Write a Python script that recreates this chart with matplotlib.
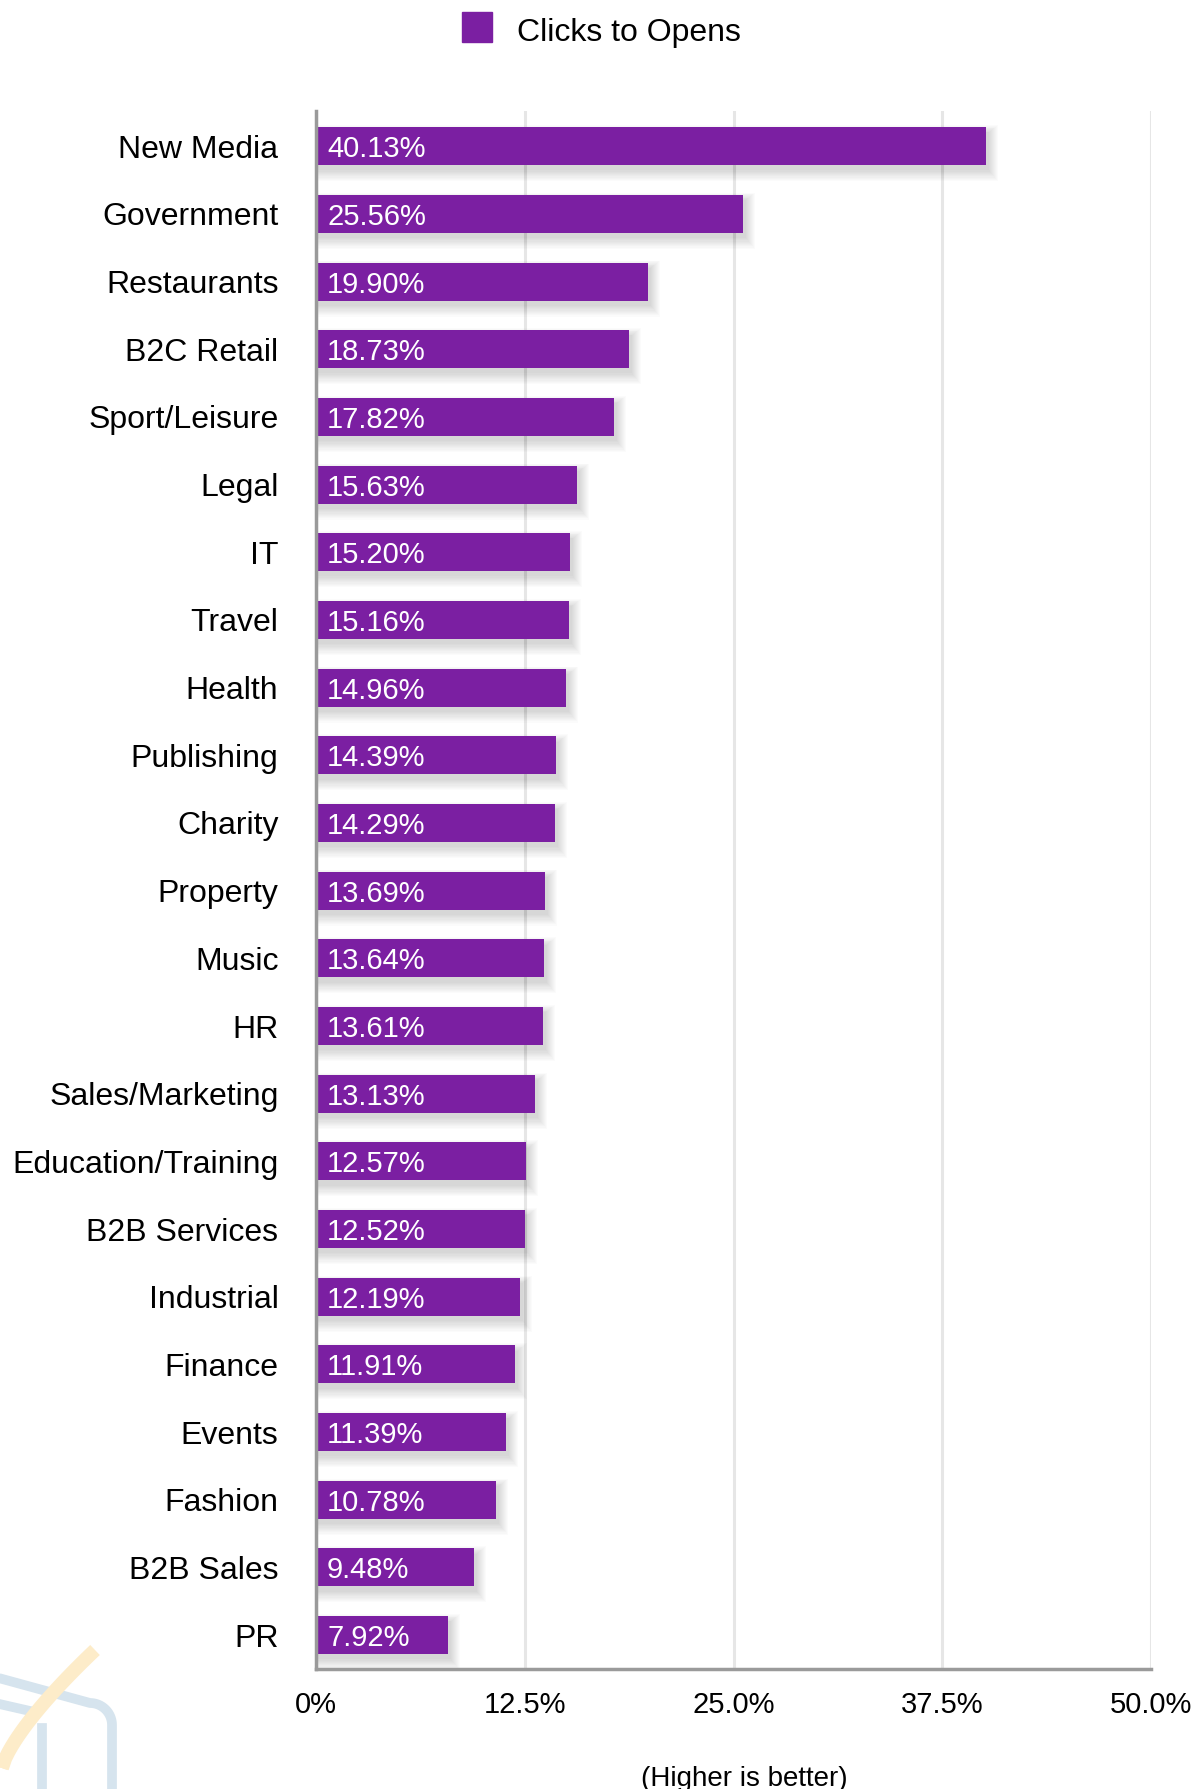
import numpy as np
import matplotlib.pyplot as plt
from matplotlib.patches import Rectangle

plt.rcParams['font.family'] = ['Liberation Sans', 'DejaVu Sans']

categories = ["New Media", "Government", "Restaurants", "B2C Retail", "Sport/Leisure",
              "Legal", "IT", "Travel", "Health", "Publishing", "Charity", "Property",
              "Music", "HR", "Sales/Marketing", "Education/Training", "B2B Services",
              "Industrial", "Finance", "Events", "Fashion", "B2B Sales", "PR"]
clicks_to_opens = [40.13, 25.56, 19.90, 18.73, 17.82, 15.63, 15.20, 15.16, 14.96, 14.39,
                   14.29, 13.69, 13.64, 13.61, 13.13, 12.57, 12.52, 12.19, 11.91, 11.39,
                   10.78, 9.48, 7.92]
xticks = [0, 12.5, 25.0, 37.5, 50.0]
xtick_labels = ["0%", "12.5%", "25.0%", "37.5%", "50.0%"]

purple = '#7b1fa2'
W, H = 1200, 1789
fig = plt.figure(figsize=(W / 100, H / 100), dpi=100)

# watermark logo in the lower left corner (pixel coords)
bg = fig.add_axes([0, 0, 1, 1], zorder=0)
bg.set_xlim(0, W)
bg.set_ylim(H, 0)
bg.axis('off')
blue = '#d6e4ee'
t = np.linspace(0, np.pi / 2, 20)
bx = list(np.linspace(-5, 90, 10)) + list(90 + 22 * np.sin(t)) + [112, 112]
by = list(np.linspace(1677, 1703, 10)) + list(1725 - 22 * np.cos(t)) + [1725, 1800]
bg.plot(bx, by, color=blue, lw=7, solid_capstyle='butt')
bg.plot([-5, 30], [1703, 1711], color=blue, lw=7)
bg.plot([42, 42], [1728, 1800], color=blue, lw=7)
cx = np.linspace(2, 95, 30)
cy = 1768 - 118 * ((cx - 2) / 93) ** 0.75
for lw in (10, 8, 6):
    n = int(30 * lw / 10)
    bg.plot(cx[:n], cy[:n], color='#fdecc9', lw=lw, solid_capstyle='butt')

ax = fig.add_axes([316 / W, 1 - 1669 / H, 835 / W, (1669 - 111) / H], zorder=1)
ax.patch.set_alpha(0)
y = np.arange(len(categories))

# soft drop shadow behind bars
for k in range(10):
    grow = (k + 1) * 1.0
    ax.barh(y + (5 + grow * 0.2) / 67.7, np.array(clicks_to_opens) + (2 + grow) / 16.7,
            height=(36 + 2 * grow) / 67.7, left=0, color='black', alpha=0.014, lw=0, zorder=2)

bars = ax.barh(y, clicks_to_opens, height=38 / 67.7, color=purple, lw=0, zorder=3)
for yi, v in zip(y, clicks_to_opens):
    ax.annotate(f"{v:.2f}%", xy=(0, yi), xytext=(8, 0), textcoords='offset points',
                ha='left', va='center_baseline', color='white', fontsize=21, zorder=4)

ax.set_xlim(0, 50)
ax.set_ylim(len(categories) - 0.5, -0.52)
ax.set_xticks(xticks)
ax.set_xticklabels(xtick_labels)
ax.set_yticks(y)
ax.set_yticklabels(categories)
ax.tick_params(axis='y', length=0, pad=27, labelsize=23)
ax.tick_params(axis='x', length=0, pad=16, labelsize=21)
ax.grid(axis='x', color='#e6e6e6', lw=2.2, zorder=0)
ax.set_axisbelow(True)
for s in ['top', 'right']:
    ax.spines[s].set_visible(False)
for s in ['left', 'bottom']:
    ax.spines[s].set_color('#9a9a9a')
    ax.spines[s].set_linewidth(2.5)
    ax.spines[s].set_zorder(5)

# legend
fig.patches.append(Rectangle((462 / W, 1 - 42 / H), 30 / W, 30 / H,
                             transform=fig.transFigure, color=purple))
fig.text(517 / W, 1 - 29 / H, "Clicks to Opens", ha='left', va='center_baseline', fontsize=23)

fig.text(744 / W, 1 - 1776 / H, "(Higher is better)", ha='center', va='center_baseline', fontsize=20)

fig.savefig('out.png', dpi=100)
